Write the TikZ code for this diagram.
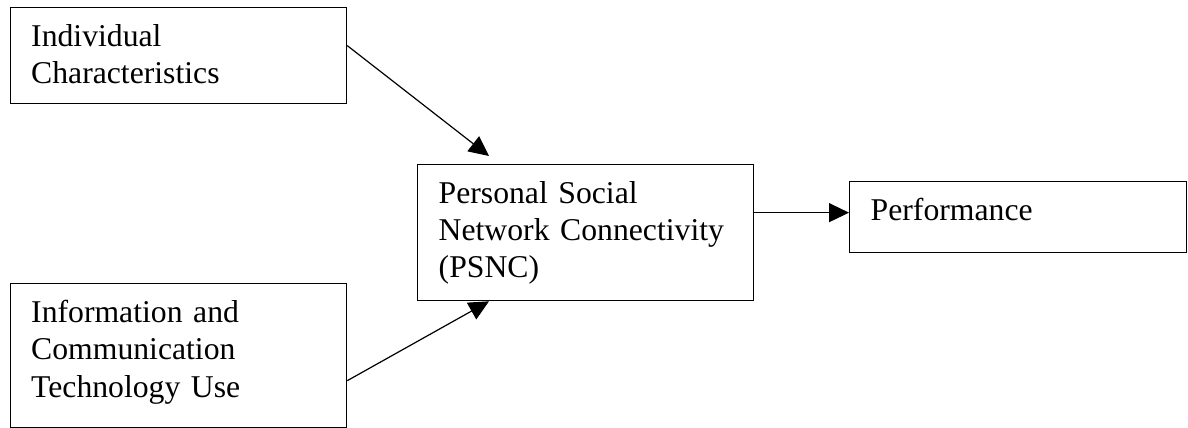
\documentclass[tikz,border=0pt]{standalone}
\usepackage{fontspec}
\setmainfont{Liberation Serif}
\usetikzlibrary{arrows.meta}
\begin{document}
\begin{tikzpicture}[x=1pt,y=-1pt,
  box/.style={draw=black,line width=1.3pt,inner sep=0pt,anchor=north west,minimum width=#1},
  lbl/.style={anchor=base west,inner sep=0pt,text width=320pt,align=left,font=\fontsize{31.7}{37.3}\selectfont},
  conn/.style={draw=black,line width=1.2pt,-{Triangle[length=20pt,width=19pt]}}]
\fill[white] (0,0) rectangle (1188,428);
\useasboundingbox (0,0) rectangle (1188,428);
% boxes
\node[box=336.5pt,minimum height=96pt]  (ind)  at (9.5,7) {};
\node[box=336.5pt,minimum height=144pt] (ict)  at (9.5,283) {};
\node[box=336pt,minimum height=136pt]   (psnc) at (417,164) {};
\node[box=337pt,minimum height=71pt]    (perf) at (849,181) {};
% texts
\node[lbl] (tind)  at ([xshift=21.5pt,yshift=-39.5pt]ind.north west) {Individual\\Characteristics};
\node[lbl] (tict)  at ([xshift=21.5pt,yshift=-39.5pt]ict.north west) {Information and\\Communication\\Technology Use};
\node[lbl] (tpsnc) at ([xshift=21.5pt,yshift=-39pt]psnc.north west) {Personal Social\\Network Connectivity\\(PSNC)};
\node[lbl] (tperf) at ([xshift=21.5pt,yshift=-39pt]perf.north west) {Performance};
% connectors
\draw[conn] ([yshift=10pt]ind.east) -- ([xshift=72pt,yshift=8pt]psnc.north west);
\draw[conn] ([yshift=-25pt]ict.east) -- ([xshift=72pt]psnc.south west);
\draw[conn] ([yshift=20pt]psnc.east) -- ([yshift=4.5pt]perf.west);
\end{tikzpicture}
\end{document}
